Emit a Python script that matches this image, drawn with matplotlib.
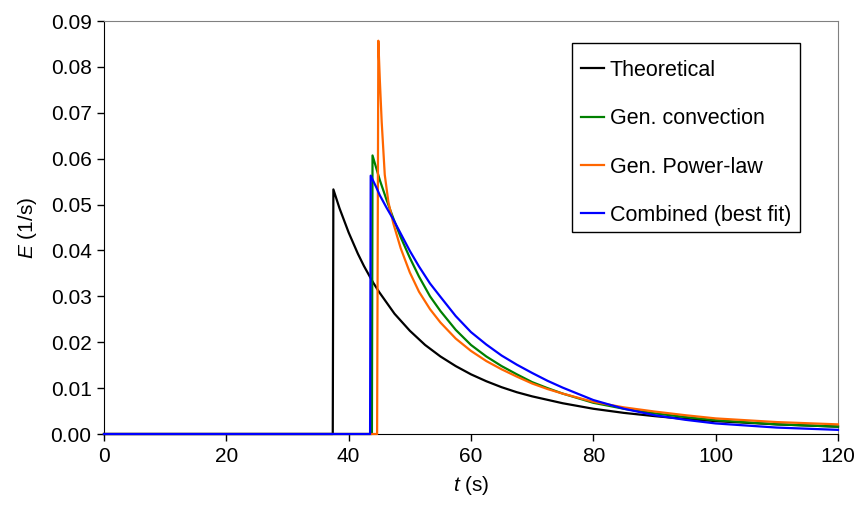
import matplotlib
matplotlib.use("Agg")
import matplotlib.pyplot as plt
from matplotlib.patches import Rectangle

plt.rcParams['font.family'] = ['Liberation Sans', 'DejaVu Sans']
plt.rcParams['mathtext.fontset'] = 'custom'
plt.rcParams['mathtext.it'] = 'Liberation Sans:italic'
plt.rcParams['mathtext.rm'] = 'Liberation Sans'

# values
t_theo = [0, 37.4, 37.5, 38.5, 40, 41.5, 42.5, 44, 45, 47.5, 50, 52.5, 55, 57.5, 60, 62.5, 65,
          67.5, 70, 75, 80, 85, 90, 95, 100, 110, 120]
E_theo = [0, 0, 0.0533, 0.0492, 0.0439, 0.0393, 0.0366, 0.0330, 0.0309, 0.0262, 0.0225, 0.0194,
          0.0169, 0.0148, 0.0130, 0.0115, 0.0102, 0.0091, 0.0082, 0.0067, 0.0055, 0.0046,
          0.0039, 0.0033, 0.0028, 0.0021, 0.0016]

t_conv = [0, 43.8, 43.9, 44.5, 45.1, 46.2, 47.3, 48.5, 50, 51.5, 53.3, 55, 57.5, 60, 62.5, 65,
          67.5, 70, 72.5, 75, 80, 85, 90, 95, 100, 110, 120]
E_conv = [0, 0, 0.0607, 0.0580, 0.0553, 0.0510, 0.0470, 0.0429, 0.0384, 0.0343, 0.0300, 0.0268,
          0.0227, 0.0194, 0.0169, 0.0148, 0.0130, 0.0113, 0.0100, 0.0088, 0.0068, 0.0055,
          0.0045, 0.0037, 0.0030, 0.0021, 0.0016]

t_pow = [0, 44.65, 44.85, 45.1, 45.4, 45.9, 46.5, 47.3, 48.5, 50, 51.5, 53.3, 55, 57.5, 60, 62.5,
         65, 67.5, 70, 72.5, 75, 80, 85, 90, 95, 100, 110, 120]
E_pow = [0, 0, 0.0857, 0.0770, 0.0680, 0.0565, 0.0505, 0.0459, 0.0405, 0.0352, 0.0310, 0.0272,
         0.0243, 0.0208, 0.0181, 0.0159, 0.0141, 0.0125, 0.0110, 0.0098, 0.0088, 0.0070,
         0.0058, 0.0049, 0.0041, 0.0034, 0.0026, 0.0021]

t_comb = [0, 43.5, 43.6, 44.5, 45.1, 46.2, 47.2, 48.5, 50, 51.5, 53.3, 55, 57.5, 60, 62.5, 65,
          67.5, 70, 72.5, 75, 80, 85, 90, 95, 100, 110, 120]
E_comb = [0, 0, 0.0563, 0.0538, 0.0520, 0.0493, 0.0470, 0.0437, 0.0399, 0.0365, 0.0328, 0.0299,
          0.0257, 0.0222, 0.0195, 0.0171, 0.0151, 0.0133, 0.0116, 0.0101, 0.0074, 0.0055,
          0.0041, 0.0031, 0.0023, 0.0014, 0.0009]

fig = plt.figure(figsize=(8.56, 5.14), dpi=100)
ax = fig.add_axes([104/856, 1-434/514, (838-104)/856, (434-21)/514])

lw = 1.6
ax.plot(t_theo, E_theo, color='black', lw=lw, label='Theoretical', zorder=3, clip_on=False)
ax.plot(t_conv, E_conv, color='#008000', lw=lw, label='Gen. convection', zorder=3, clip_on=False)
ax.plot(t_pow, E_pow, color='#FF6600', lw=lw, label='Gen. Power-law', zorder=3, clip_on=False)
ax.plot(t_comb, E_comb, color='#0000FF', lw=lw, label='Combined (best fit)', zorder=3, clip_on=False)

ax.set_xlim(0, 120)
ax.set_ylim(0, 0.09)
ax.set_xticks(range(0, 121, 20))
ax.set_yticks([i/100 for i in range(10)])
ax.set_yticklabels(['%.2f' % (i/100) for i in range(10)])
ax.tick_params(labelsize=15, direction='out', length=5, width=1, pad=4)

for s in ['top', 'right']:
    ax.spines[s].set_color('#808080')
for s in ['left', 'bottom']:
    ax.spines[s].set_color('black')

ax.set_xlabel(r'$\it{t}$ (s)', fontsize=15, labelpad=6)
ax.set_ylabel(r'$\it{E}$ (1/s)', fontsize=15, labelpad=8)

# legend box drawn separately so the padding matches
fig.patches.append(Rectangle((572/856, 1-232/514), 228/856, 189/514, transform=fig.transFigure,
                             fill=False, edgecolor='black', lw=1.0, zorder=5))
leg = ax.legend(loc='upper left', bbox_to_anchor=(581/856, 1-60/514), bbox_transform=fig.transFigure,
                fontsize=15.5, frameon=False, handlelength=1.05, handletextpad=0.28,
                labelspacing=1.27, borderpad=0, borderaxespad=0)

fig.savefig('out.png', dpi=100)
